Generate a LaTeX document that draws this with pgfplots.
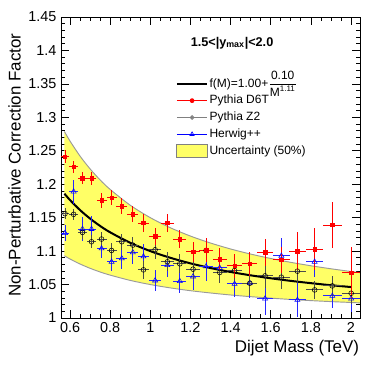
\documentclass[border=0pt]{standalone}
\usepackage{fontspec}
\setmainfont{Liberation Sans}
\usepackage{amsmath}
\usepackage{pgfplots}
\usepackage{pgfplotstable}
\pgfplotsset{compat=1.18}
\definecolor{bandyellow}{HTML}{FFFF66}
\definecolor{d6tred}{HTML}{FF0000}
\definecolor{hwblue}{HTML}{0000FF}
\definecolor{z2gray}{HTML}{808080}

% x y ex ey
\pgfplotstableread{
x y ex ey
0.575 1.241 0.021 0.010
0.618 1.226 0.022 0.009
0.662 1.209 0.022 0.009
0.707 1.209 0.024 0.010
0.757 1.176 0.025 0.011
0.807 1.180 0.025 0.011
0.858 1.167 0.027 0.012
0.913 1.155 0.027 0.012
0.966 1.142 0.029 0.013
1.024 1.122 0.030 0.013
1.085 1.142 0.031 0.013
1.147 1.118 0.032 0.013
1.213 1.099 0.033 0.015
1.278 1.101 0.034 0.018
1.346 1.088 0.036 0.016
1.420 1.078 0.037 0.018
1.496 1.081 0.038 0.018
1.572 1.098 0.040 0.020
1.653 1.087 0.041 0.019
1.733 1.100 0.043 0.028
1.819 1.103 0.044 0.031
1.907 1.139 0.047 0.034
2.001 1.068 0.047 0.038
}\dsixt

\pgfplotstableread{
x y ex ey
0.575 1.156 0.021 0.008
0.618 1.155 0.022 0.008
0.662 1.128 0.022 0.010
0.707 1.114 0.024 0.010
0.757 1.118 0.025 0.010
0.807 1.101 0.025 0.011
0.858 1.114 0.027 0.012
0.913 1.109 0.027 0.012
0.966 1.072 0.029 0.013
1.024 1.102 0.030 0.014
1.085 1.084 0.031 0.014
1.147 1.081 0.032 0.014
1.213 1.073 0.033 0.015
1.278 1.101 0.034 0.016
1.346 1.068 0.036 0.016
1.420 1.071 0.037 0.017
1.496 1.052 0.038 0.018
1.572 1.063 0.040 0.018
1.653 1.061 0.041 0.018
1.733 1.070 0.043 0.018
1.819 1.042 0.044 0.014
1.907 1.048 0.047 0.015
2.001 1.037 0.047 0.016
}\ztwo

\pgfplotstableread{
x y ex ey
0.575 1.127 0.021 0.012
0.618 1.189 0.022 0.018
0.662 1.133 0.022 0.018
0.707 1.133 0.024 0.020
0.757 1.104 0.025 0.015
0.807 1.084 0.025 0.014
0.858 1.089 0.027 0.016
0.913 1.098 0.027 0.017
0.966 1.092 0.029 0.018
1.024 1.056 0.030 0.016
1.085 1.079 0.031 0.018
1.147 1.055 0.032 0.018
1.213 1.062 0.033 0.020
1.278 1.077 0.034 0.022
1.346 1.075 0.036 0.022
1.420 1.051 0.037 0.020
1.496 1.052 0.038 0.022
1.572 1.029 0.040 0.025
1.653 1.093 0.041 0.026
1.733 1.027 0.043 0.025
1.819 1.084 0.044 0.022
1.907 1.033 0.047 0.018
2.001 1.029 0.047 0.020
}\herwig

\begin{document}
\begin{tikzpicture}
\begin{axis}[
  name=main,
  scale only axis, width=224.25pt, height=225.75pt,
  xmin=0.555, xmax=2.045, ymin=1, ymax=1.45,
  xtick={0.6,0.8,1,1.2,1.4,1.6,1.8,2},
  ytick={1,1.05,1.1,1.15,1.2,1.25,1.3,1.35,1.4,1.45},
  minor x tick num=3, minor y tick num=4,
  tick align=inside,
  major tick length=6pt, minor tick length=3pt,
  every tick/.style={black, line width=0.5pt},
  axis line style={line width=0.6pt},
  /pgf/number format/assume math mode=true,
  tick label style={font=\fontsize{10.8}{12}\selectfont},
  label style={font=\fontsize{12.7}{14}\selectfont},
  xlabel={Dijet Mass (TeV)},
  xlabel style={at={(ticklabel cs:1)}, anchor=north east, inner sep=2pt, xshift=1.5pt},
  ylabel={Non-Perturbative Correction Factor},
  ylabel style={at={(ticklabel cs:0.955)}, anchor=south east, inner sep=2pt},
  legend style={draw=none, fill=none, at={(0.37,0.81)}, anchor=north west,
    font=\fontsize{9}{10.5}\selectfont, row sep=2.6pt,
    nodes={inner sep=1pt}},
  legend cell align=left,
  legend image code/.code={\draw[mark repeat=2,mark phase=2]
    plot coordinates {(0cm,0cm)(0.4cm,0cm)(0.8cm,0cm)};},
]
  % uncertainty band (50%)
  \addplot[fill=bandyellow, draw=none, forget plot] coordinates {
    (0.572,1.2789) (0.6,1.2645) (0.65,1.2420) (0.7,1.2229) (0.75,1.2064)
    (0.8,1.1922) (0.9,1.1686) (1.0,1.1500) (1.1,1.1349) (1.2,1.1225)
    (1.3,1.1121) (1.4,1.1032) (1.5,1.0956) (1.6,1.0890) (1.7,1.0832)
    (1.8,1.0781) (1.9,1.0736) (2.0,1.0695) (2.045,1.0678)
    (2.045,1.0226) (2.0,1.0232) (1.9,1.0245) (1.8,1.0260) (1.7,1.0277)
    (1.6,1.0297) (1.5,1.0319) (1.4,1.0344) (1.3,1.0374) (1.2,1.0408)
    (1.1,1.0450) (1.0,1.0500) (0.9,1.0562) (0.8,1.0641) (0.75,1.0688)
    (0.7,1.0743) (0.65,1.0807) (0.6,1.0882) (0.572,1.0930)} -- cycle;
  \addplot[z2gray!80, line width=0.7pt, smooth, forget plot] coordinates {
    (0.572,1.2789) (0.6,1.2645) (0.65,1.2420) (0.7,1.2229) (0.75,1.2064)
    (0.8,1.1922) (0.9,1.1686) (1.0,1.1500) (1.1,1.1349) (1.2,1.1225)
    (1.3,1.1121) (1.4,1.1032) (1.5,1.0956) (1.6,1.0890) (1.7,1.0832)
    (1.8,1.0781) (1.9,1.0736) (2.0,1.0695) (2.045,1.0678)};
  \addplot[z2gray!80, line width=0.7pt, smooth, forget plot] coordinates {
    (0.572,1.0930) (0.6,1.0882) (0.65,1.0807) (0.7,1.0743) (0.75,1.0688)
    (0.8,1.0641) (0.9,1.0562) (1.0,1.0500) (1.1,1.0450) (1.2,1.0408)
    (1.3,1.0374) (1.4,1.0344) (1.5,1.0319) (1.6,1.0297) (1.7,1.0277)
    (1.8,1.0260) (1.9,1.0245) (2.0,1.0232) (2.045,1.0226)};
  % fit f(M)
  \addplot[black, line width=1.5pt, smooth, forget plot] coordinates {
    (0.572,1.1859) (0.6,1.1763) (0.65,1.1613) (0.7,1.1486) (0.75,1.1376)
    (0.8,1.1281) (0.9,1.1124) (1.0,1.1000) (1.1,1.0900) (1.2,1.0817)
    (1.3,1.0747) (1.4,1.0688) (1.5,1.0638) (1.6,1.0594) (1.7,1.0555)
    (1.8,1.0521) (1.9,1.0490) (2.0,1.0463)};
  % Herwig++
  \addplot[hwblue, only marks, mark=triangle, mark size=2.2pt, forget plot,
    error bars/.cd, x dir=both, x explicit, y dir=both, y explicit,
    error mark=none, error bar style={hwblue!85, line width=0.7pt}]
    table[x=x, y=y, x error=ex, y error=ey] {\herwig};
  % Pythia Z2
  \addplot[black, only marks, mark=o, mark size=1.8pt, forget plot,
    error bars/.cd, x dir=both, x explicit, y dir=both, y explicit,
    error mark=none, error bar style={black!70, line width=0.7pt}]
    table[x=x, y=y, x error=ex, y error=ey] {\ztwo};
  % Pythia D6T
  \addplot[d6tred, only marks, mark=square*, mark size=1.3pt, forget plot,
    error bars/.cd, x dir=both, x explicit, y dir=both, y explicit,
    error mark=none, error bar style={d6tred, line width=0.7pt}]
    table[x=x, y=y, x error=ex, y error=ey] {\dsixt};

  \addlegendimage{black, line width=1.5pt}
  \addlegendentry{f(M)=1.00+$\smash{\dfrac{\text{0.10}}{\text{M}^{\text{1.11}}}}$}
  \addlegendimage{d6tred, line width=0.5pt, mark=*, mark size=1.5pt}
  \addlegendentry{Pythia D6T}
  \addlegendimage{z2gray, line width=0.8pt, mark=o, mark size=1.3pt}
  \addlegendentry{Pythia Z2}
  \addlegendimage{hwblue, line width=0.5pt, mark=triangle, mark size=1.8pt}
  \addlegendentry{Herwig++}
  \addlegendimage{legend image code/.code={
    \draw[fill=bandyellow, draw=z2gray, line width=0.6pt] (0cm,-0.16cm) rectangle (0.8cm,0.17cm);}}
  \addlegendentry{Uncertainty (50\%)}

  \node[font=\fontsize{9.5}{11}\selectfont\bfseries] at (rel axis cs:0.572,0.914)
    {1.5<|y\textsubscript{max}|<2.0};
\end{axis}
\pgfresetboundingbox
\path[use as bounding box] ([shift={(-45.75pt,-35.25pt)}]main.south west)
  rectangle ([shift={(15pt,12.75pt)}]main.north east);
\end{tikzpicture}
\end{document}
